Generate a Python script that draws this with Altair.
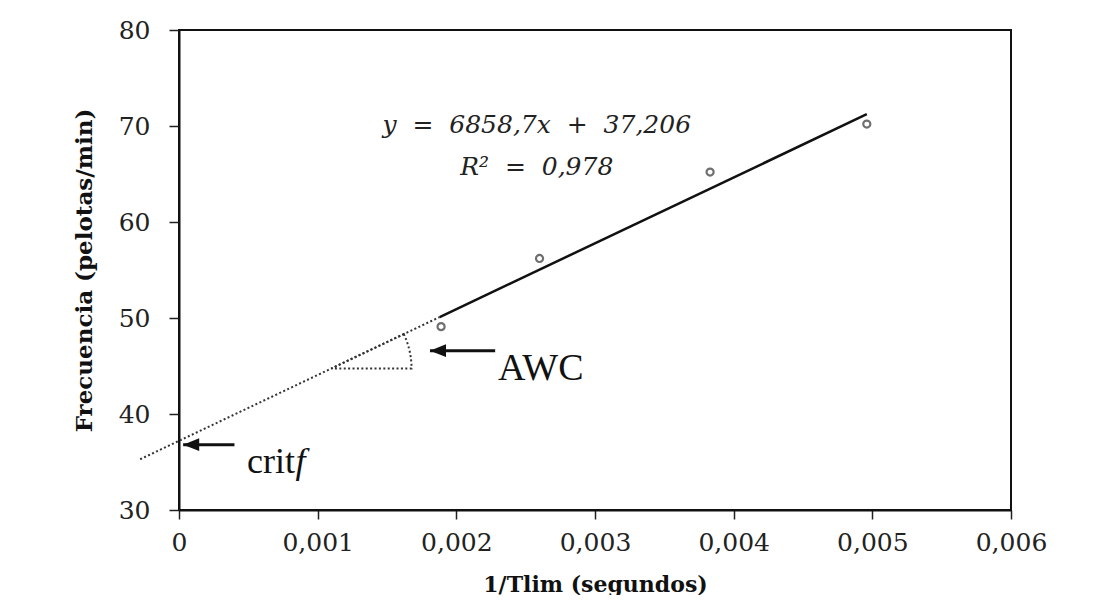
import altair as alt
import pandas as pd

# ---- data ----
point_x = [0.00189, 0.00260, 0.00383, 0.00496]
point_y = [49.1, 56.2, 65.2, 70.2]

fit_slope = 6858.7
fit_intercept = 37.206
solid_x = [0.00188, 0.00496]
dotted_x = [-0.00028, 0.00188]

x_ticks = [0, 0.001, 0.002, 0.003, 0.004, 0.005, 0.006]
y_ticks = [30, 40, 50, 60, 70, 80]

NB = "\u00a0"
equation_text = [f"y{NB} = {NB}6858,7x{NB} + {NB}37,206", f"R²{NB} = {NB}0,978"]
equation_x = [0.00258, 0.00258]
equation_y = [69.3, 64.9]

arrow_tip_x = [0.00181, 0.00003]
arrow_tail_x = [0.00228, 0.00040]
arrow_y = [46.6, 36.8]

awc_label = ["AWC"]
awc_x = [0.00230]
awc_y = [43.5]
crit_label = ["crit"]
crit_x = [0.00049]
crit_y = [33.85]
crit_f_label = ["f"]
crit_f_x = [0.00084]

angle_x = [0.0011]

# ---- tables ----
points_df = pd.DataFrame({"x": point_x, "y": point_y})
solid_df = pd.DataFrame({"x": solid_x})
dotted_df = pd.DataFrame({"x": dotted_x})
eq_df = pd.DataFrame({"x": equation_x, "y": equation_y, "t": equation_text})
arrow_df = pd.DataFrame({"x": arrow_tip_x, "x2": arrow_tail_x, "y": arrow_y})
awc_df = pd.DataFrame({"x": awc_x, "y": awc_y, "t": awc_label})
crit_df = pd.DataFrame({"x": crit_x, "y": crit_y, "t": crit_label})
critf_df = pd.DataFrame({"x": crit_f_x, "y": crit_y, "t": crit_f_label})
angle_df = pd.DataFrame({"x": angle_x})

xs = alt.Scale(domain=[0, 0.006], nice=False, zero=False)
ys = alt.Scale(domain=[30, 80], nice=False, zero=False)

SERIF = "DejaVu Serif"
TIMES = "Liberation Serif"

x_axis = alt.Axis(
    values=x_ticks,
    labelExpr="replace(format(datum.value, '~g'), '.', ',')",
    labelFont=SERIF, labelFontSize=25, labelColor="#222",
    labelFlush=False, labelOverlap=False,
    tickSize=9, tickColor="#222", tickWidth=1.5,
    domainColor="#111", domainWidth=2,
    labelPadding=11, grid=False,
    title="1/Tlim (segundos)", titleFont=SERIF, titleFontSize=22,
    titleFontWeight="bold", titleColor="#111", titlePadding=19,
)
y_axis = alt.Axis(
    values=y_ticks,
    labelFont=SERIF, labelFontSize=25, labelColor="#222",
    labelFlush=False, labelOverlap=False,
    tickSize=10, tickColor="#222", tickWidth=1.5,
    domainColor="#111", domainWidth=2,
    labelPadding=19, grid=False,
    title="Frecuencia (pelotas/min)", titleFont=SERIF, titleFontSize=23,
    titleFontWeight="bold", titleColor="#111", titlePadding=22,
)

X = alt.X("x:Q", scale=xs, axis=x_axis)
Y = alt.Y("y:Q", scale=ys, axis=y_axis)

points = alt.Chart(points_df).mark_point(
    shape="circle", filled=False, size=50, stroke="#333", strokeWidth=2.2
).encode(x=X, y=Y)

calc_y = f"{fit_slope} * datum.x + {fit_intercept}"

solid = alt.Chart(solid_df).transform_calculate(y=calc_y).mark_line(
    color="#111", strokeWidth=2.5
).encode(x=X, y=Y)

dotted = alt.Chart(dotted_df).transform_calculate(y=calc_y).mark_line(
    color="#333", strokeWidth=2, strokeDash=[2, 2.4]
).encode(x=X, y=Y)

angle = alt.Chart(angle_df).transform_calculate(y=calc_y).mark_arc(
    theta=1.1275, theta2=1.5708, radius=80, filled=False,
    stroke="#333", strokeWidth=2, strokeDash=[2, 2.4]
).encode(x=X, y=Y)

shafts = alt.Chart(arrow_df).mark_rule(color="#111", strokeWidth=3).encode(
    x=X, x2="x2:Q", y=Y,
)
heads = alt.Chart(arrow_df).mark_point(
    shape="M0,0L2,-0.8L2,0.8Z", size=256, filled=True, color="#111", opacity=1, strokeWidth=0
).encode(x=X, y=Y)

equation = alt.Chart(eq_df).mark_text(
    font=SERIF, fontStyle="italic", fontSize=25, align="center",
    baseline="alphabetic", color="#222"
).encode(x=X, y=Y, text="t:N")

awc = alt.Chart(awc_df).mark_text(
    font=TIMES, fontSize=38, align="left", baseline="alphabetic", color="#111"
).encode(x=X, y=Y, text="t:N")

crit = alt.Chart(crit_df).mark_text(
    font=TIMES, fontSize=36, align="left", baseline="alphabetic", color="#111"
).encode(x=X, y=Y, text="t:N")

critf = alt.Chart(critf_df).mark_text(
    font=TIMES, fontSize=36, fontStyle="italic", align="left", baseline="alphabetic", color="#111"
).encode(x=X, y=Y, text="t:N")

chart = alt.layer(
    dotted, angle, solid, points, shafts, heads, equation, awc, crit, critf
).properties(
    width=832, height=480,
    autosize=alt.AutoSizeParams(type="none"),
    padding={"left": 171, "top": 22, "right": 80, "bottom": 85},
    background="white",
).configure_view(stroke="#111", strokeWidth=2)

chart.save("out.html", embed_options={"renderer": "svg", "actions": False})
